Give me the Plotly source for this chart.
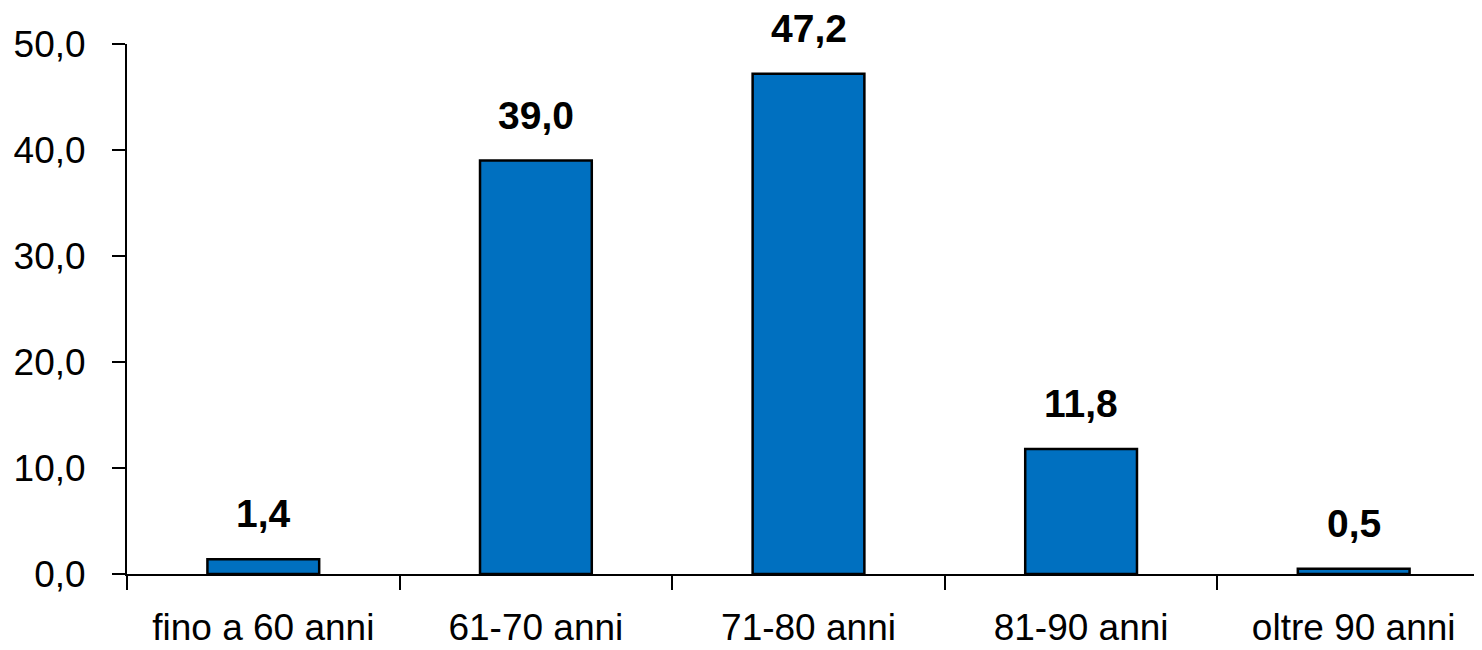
import plotly.graph_objects as go

categories = ["fino a 60 anni", "61-70 anni", "71-80 anni", "81-90 anni", "oltre 90 anni"]
values = [1.4, 39.0, 47.2, 11.8, 0.5]
y_ticks = [0, 10, 20, 30, 40, 50]
y_tick_labels = ["0,0", "10,0", "20,0", "30,0", "40,0", "50,0"]

FONT = "Liberation Sans Narrow, Arial Narrow, Liberation Sans, Arial, sans-serif"
FS = 37

fig = go.Figure()
fig.add_trace(go.Bar(
    x=categories, y=values,
    marker=dict(color="#0070C0", line=dict(color="black", width=2.5)),
    width=0.41,
))

for c, v in zip(categories, values):
    fig.add_annotation(
        x=c, y=v, text="<b>" + f"{v:.1f}".replace(".", ",") + "</b>",
        showarrow=False, yanchor="bottom", xanchor="center", yshift=22,
        font=dict(family=FONT, size=39, color="black"),
    )

fig.update_layout(
    width=1482, height=650,
    margin=dict(l=119, r=0, t=36, b=84),
    plot_bgcolor="white", paper_bgcolor="white",
    showlegend=False,
    font=dict(family=FONT, size=FS, color="black"),
    xaxis=dict(
        type="category", showline=True, linecolor="black", linewidth=2,
        ticks="outside", tickson="boundaries", ticklen=14, tickwidth=2, tickcolor="black",
        showgrid=False, zeroline=False, ticklabelstandoff=20, tickangle=0, automargin=False,
        tickfont=dict(family=FONT, size=FS, color="black"),
    ),
    yaxis=dict(
        range=[0, 50], tickvals=y_ticks, ticktext=y_tick_labels,
        showline=True, linecolor="black", linewidth=2,
        ticks="outside", ticklen=13, tickwidth=2, tickcolor="black",
        showgrid=False, zeroline=False, ticklabelstandoff=19, automargin=False,
        tickfont=dict(family=FONT, size=FS, color="black"),
    ),
)

fig.write_html("out.html")
